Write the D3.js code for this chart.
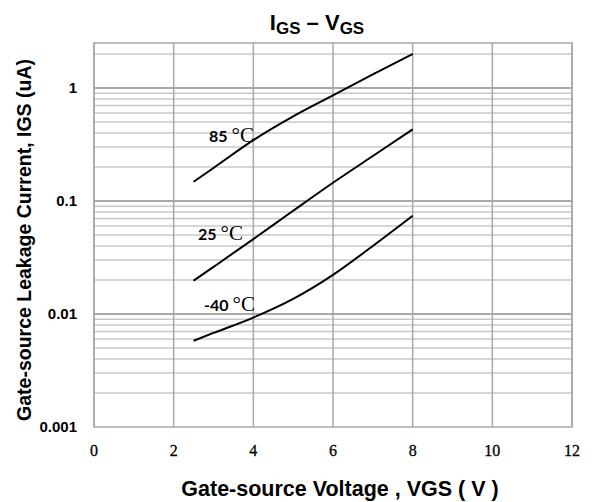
<!DOCTYPE html>
<html>
<head>
<meta charset="utf-8">
<script src="https://cdn.jsdelivr.net/npm/d3@7"></script>
<style>
  html, body { margin: 0; padding: 0; background: #fff; }
  svg { display: block; }
</style>
</head>
<body>
<svg id="chart" width="594" height="502"></svg>
<script>
// Gate-source voltage (V) sample points
const vgs = [2.5, 3, 4, 5, 6, 7, 8];
// Leakage current IGS (uA) per temperature
const igs85 = [0.148, 0.196, 0.345, 0.56, 0.86, 1.32, 2.0];
const igs25 = [0.0197, 0.0261, 0.046, 0.082, 0.145, 0.25, 0.43];
const igsM40 = [0.0058, 0.0068, 0.0093, 0.0136, 0.0222, 0.040, 0.074];
// Curve labels
const temps = ["85", "25", "-40"];
// Axis ticks
const xTicks = [0, 2, 4, 6, 8, 10, 12];
const yTicks = [0.001, 0.01, 0.1, 1];
const yTickLabels = ["0.001", "0.01", "0.1", "1"];

const svg = d3.select("#chart");
const plotL = 94, plotR = 572, plotT = 43, plotB = 427;

const x = d3.scaleLinear().domain([0, 12]).range([plotL, plotR]);
const y = d3.scaleLog().domain([0.001, 2.5]).range([plotB, plotT]);

// minor horizontal grid: 2..9 × each decade, plus 2 in the top decade
const minor = [];
[0.001, 0.01, 0.1, 1].forEach(d => {
  for (let k = 2; k <= 9; k++) {
    const v = d * k;
    if (v <= 2.5) minor.push(v);
  }
});

const grid = svg.append("g");
grid.selectAll("line.minor").data(minor).join("line")
  .attr("x1", plotL).attr("x2", plotR)
  .attr("y1", d => y(d)).attr("y2", d => y(d))
  .attr("stroke", "#c8c8c8").attr("stroke-width", 1.5);

grid.selectAll("line.major").data([0.01, 0.1, 1]).join("line")
  .attr("x1", plotL).attr("x2", plotR)
  .attr("y1", d => y(d)).attr("y2", d => y(d))
  .attr("stroke", "#8c8c8c").attr("stroke-width", 1.5);

grid.selectAll("line.v").data(xTicks).join("line")
  .attr("x1", d => x(d)).attr("x2", d => x(d))
  .attr("y1", plotT).attr("y2", plotB)
  .attr("stroke", "#a8a8a8").attr("stroke-width", 1.5);

// plot frame
svg.append("rect")
  .attr("x", plotL).attr("y", plotT)
  .attr("width", plotR - plotL).attr("height", plotB - plotT)
  .attr("fill", "none").attr("stroke", "#a8a8a8").attr("stroke-width", 1.5);

// curves
const line = d3.line()
  .x((d, i) => x(vgs[i]))
  .y(d => y(d))
  .curve(d3.curveMonotoneX);

[igs85, igs25, igsM40].forEach(series => {
  svg.append("path")
    .attr("d", line(series))
    .attr("fill", "none")
    .attr("stroke", "#000")
    .attr("stroke-width", 2);
});

// temperature labels
const labelPos = [[209, 142], [198, 240], [204, 311]];
temps.forEach((t, i) => {
  const txt = svg.append("text")
    .attr("x", labelPos[i][0]).attr("y", labelPos[i][1])
    .attr("fill", "#000");
  txt.append("tspan")
    .attr("font-family", "Lato, 'Open Sans', sans-serif")
    .attr("font-weight", "bold")
    .attr("font-size", 16)
    .text(t);
  txt.append("tspan")
    .attr("dx", 4)
    .attr("font-family", "'Liberation Serif', serif")
    .attr("font-size", 21)
    .text("°C");
});

// y tick labels
svg.append("g").selectAll("text").data(yTicks).join("text")
  .attr("x", 77).attr("y", d => y(d))
  .attr("dy", "0.36em")
  .attr("text-anchor", "end")
  .attr("font-family", "'Liberation Sans', Arial, sans-serif")
  .attr("font-weight", "bold")
  .attr("font-size", 15)
  .text((d, i) => yTickLabels[i]);

// x tick labels
svg.append("g").selectAll("text").data(xTicks).join("text")
  .attr("x", d => x(d)).attr("y", 456)
  .attr("text-anchor", "middle")
  .attr("font-family", "'Liberation Serif', serif")
  .attr("font-size", 16)
  .attr("stroke", "#000").attr("stroke-width", 0.3)
  .text(d => d);

// axis titles
svg.append("text")
  .attr("x", 340).attr("y", 496)
  .attr("text-anchor", "middle")
  .attr("font-family", "'Liberation Sans', Arial, sans-serif")
  .attr("font-weight", "bold")
  .attr("font-size", 21.5)
  .text("Gate-source Voltage , VGS ( V )");

svg.append("text")
  .attr("transform", "translate(31,240) rotate(-90)")
  .attr("text-anchor", "middle")
  .attr("font-family", "'Liberation Sans', Arial, sans-serif")
  .attr("font-weight", "bold")
  .attr("font-size", 19.5)
  .text("Gate-source Leakage Current, IGS (uA)");

// title
const title = svg.append("text")
  .attr("x", 317).attr("y", 30)
  .attr("text-anchor", "middle")
  .attr("font-family", "'Liberation Sans Narrow', 'Liberation Sans', Arial, sans-serif")
  .attr("font-weight", "bold")
  .attr("font-size", 22);
title.append("tspan").text("I");
title.append("tspan").attr("font-size", 17).attr("dy", 4).text("GS");
title.append("tspan").attr("dy", -4).text(" – V");
title.append("tspan").attr("font-size", 17).attr("dy", 4).text("GS");
</script>
</body>
</html>
